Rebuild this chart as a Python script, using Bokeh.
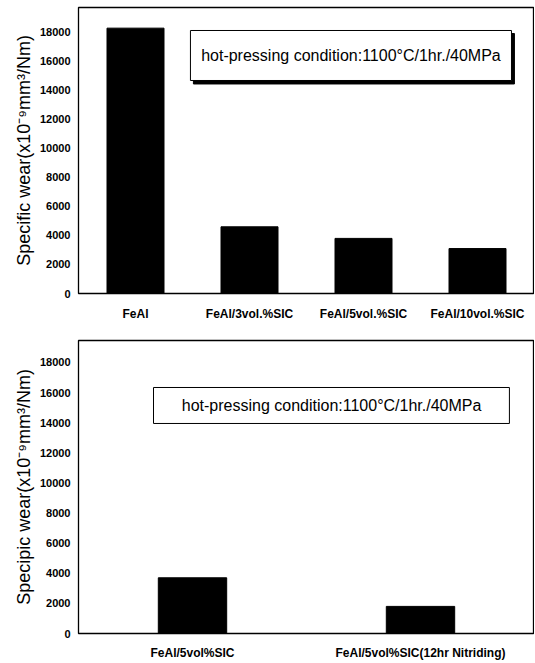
from bokeh.plotting import figure
from bokeh.models import FactorRange, Range1d, FixedTicker, BoxAnnotation, Label
from bokeh.layouts import column
from bokeh.embed import file_html
from bokeh.resources import INLINE

# ---- data ----
top_categories = ["FeAl", "FeAl/3vol.%SIC", "FeAl/5vol.%SIC", "FeAl/10vol.%SIC"]
top_values = [18300, 4600, 3800, 3100]

bottom_categories = ["FeAl/5vol%SIC", "FeAl/5vol%SIC(12hr Nitriding)"]
bottom_values = [3700, 1800]

y_ticks = [0, 2000, 4000, 6000, 8000, 10000, 12000, 14000, 16000, 18000]
note_text = "hot-pressing condition:1100\u00b0C/1hr./40MPa"

FONT = "Liberation Sans"


def style(p, ylabel):
    p.xgrid.grid_line_color = None
    p.ygrid.grid_line_color = None
    p.outline_line_color = "black"
    p.outline_line_width = 1.3
    p.outline_line_alpha = 1
    p.background_fill_color = "white"
    p.border_fill_color = "white"
    for ax in (p.xaxis[0], p.yaxis[0]):
        ax.axis_line_color = None
        ax.major_tick_line_color = None
        ax.minor_tick_line_color = None
        ax.major_tick_out = 0
        ax.major_tick_in = 0
        ax.major_label_text_font = FONT
        ax.major_label_text_font_style = "bold"
        ax.major_label_text_color = "black"
    p.xaxis[0].major_label_text_font_size = "12px"
    p.xaxis[0].major_label_standoff = 13
    p.yaxis[0].major_label_text_font_size = "11px"
    p.yaxis[0].major_label_standoff = 8
    p.yaxis[0].ticker = FixedTicker(ticks=y_ticks)
    p.yaxis[0].axis_label = ylabel
    p.yaxis[0].axis_label_text_font = FONT
    p.yaxis[0].axis_label_text_font_size = "18px"
    p.yaxis[0].axis_label_text_font_style = "normal"
    p.yaxis[0].axis_label_text_color = "black"
    p.yaxis[0].axis_label_standoff = 3


# ---- top panel ----
p1 = figure(x_range=FactorRange(*top_categories), y_range=Range1d(0, 19724),
            width=534, height=330, output_backend="svg", toolbar_location=None,
            min_border_left=78, min_border_right=0, min_border_top=7, min_border_bottom=37)
p1.vbar(x=top_categories, top=top_values, width=0.5, color="black")
style(p1, "Specific wear(x10\u207b\u2079mm\u00b3/Nm)")

p1.add_layout(BoxAnnotation(left=1.008, right=3.824, bottom=14450, top=17930,
                            fill_color="black", fill_alpha=1, line_color="black", line_alpha=1))
p1.add_layout(BoxAnnotation(left=0.982, right=3.798, bottom=14690, top=18138,
                            fill_color="white", fill_alpha=1, line_color="black",
                            line_alpha=1, line_width=1))
p1.add_layout(Label(x=2.39, y=16414, text=note_text, text_align="center",
                    text_baseline="middle", text_font=FONT, text_font_size="16px",
                    text_color="black"))

# ---- bottom panel ----
p2 = figure(x_range=FactorRange(*bottom_categories), y_range=Range1d(0, 19461),
            width=534, height=333, output_backend="svg", toolbar_location=None,
            min_border_left=78, min_border_right=0, min_border_top=10, min_border_bottom=30)
p2.vbar(x=bottom_categories, top=bottom_values, width=0.3, color="black")
style(p2, "Specipic wear(x10\u207b\u2079mm\u00b3/Nm)")
p2.xaxis[0].major_label_standoff = 12

p2.add_layout(BoxAnnotation(left=0.329, right=1.890, bottom=13950, top=16340,
                            fill_color="white", fill_alpha=1, line_color="black",
                            line_alpha=1, line_width=1))
p2.add_layout(Label(x=1.110, y=15150, text=note_text, text_align="center",
                    text_baseline="middle", text_font=FONT, text_font_size="16px",
                    text_color="black"))

layout = column(p1, p2, spacing=0)
open("out.html", "w").write(file_html(layout, INLINE))
